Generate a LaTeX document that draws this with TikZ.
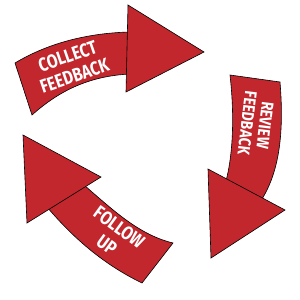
\documentclass[tikz,border=0pt]{standalone}
\usepackage{fontspec}
\setmainfont{Fira Sans}
\definecolor{arrowred}{HTML}{C1272D}

\tikzset{
  bentarrow/.style={fill=arrowred, draw=black, line width=0.6pt, line join=miter},
  arrowlabel/.style={text=white, align=center, inner sep=0pt}
}

\begin{document}
\begin{tikzpicture}[x=1pt, y=-1pt]

% Canvas in pixel coords, y pointing down
\useasboundingbox (0,0) rectangle (300,300);

% --- Arrow 1: collect feedback ---
\draw[bentarrow] (15,63) .. controls (50,42) and (90,33) .. (130,32)
  -- (130,74) .. controls (90,76) and (60,90) .. (32,115) -- cycle;
\draw[bentarrow] (128,5) -- (204,52) -- (126,92) -- cycle;
\node[arrowlabel, font=\bfseries\fontsize{19}{21}\selectfont, rotate=19, xscale=0.82] (collect) at (71,66) {COLLECT\\FEEDBACK};

% --- Arrow 2: review feedback ---
\draw[bentarrow] (230,75) -- (280,82) .. controls (284,130) and (280,170) .. (262,199)
  -- (226,181) .. controls (234,150) and (234,110) .. (230,75) -- cycle;
\draw[bentarrow] (208,169) -- (285,210) -- (211,258) -- cycle;
\node[arrowlabel, font=\bfseries\fontsize{17}{18}\selectfont, rotate=-97, xscale=0.82] (review) at (256,124) {REVIEW\\FEEDBACK};

% --- Arrow 3: follow up ---
\draw[bentarrow] (84,185) .. controls (115,212) and (140,235) .. (173,243)
  -- (142,283) .. controls (105,265) and (75,240) .. (47,207) -- cycle;
\draw[bentarrow] (23,135) -- (101,177) -- (27,223) -- cycle;
\node[arrowlabel, font=\bfseries\fontsize{19}{21}\selectfont, rotate=-36, xscale=0.82] (follow) at (113,236) {FOLLOW\\UP};

\end{tikzpicture}
\end{document}
